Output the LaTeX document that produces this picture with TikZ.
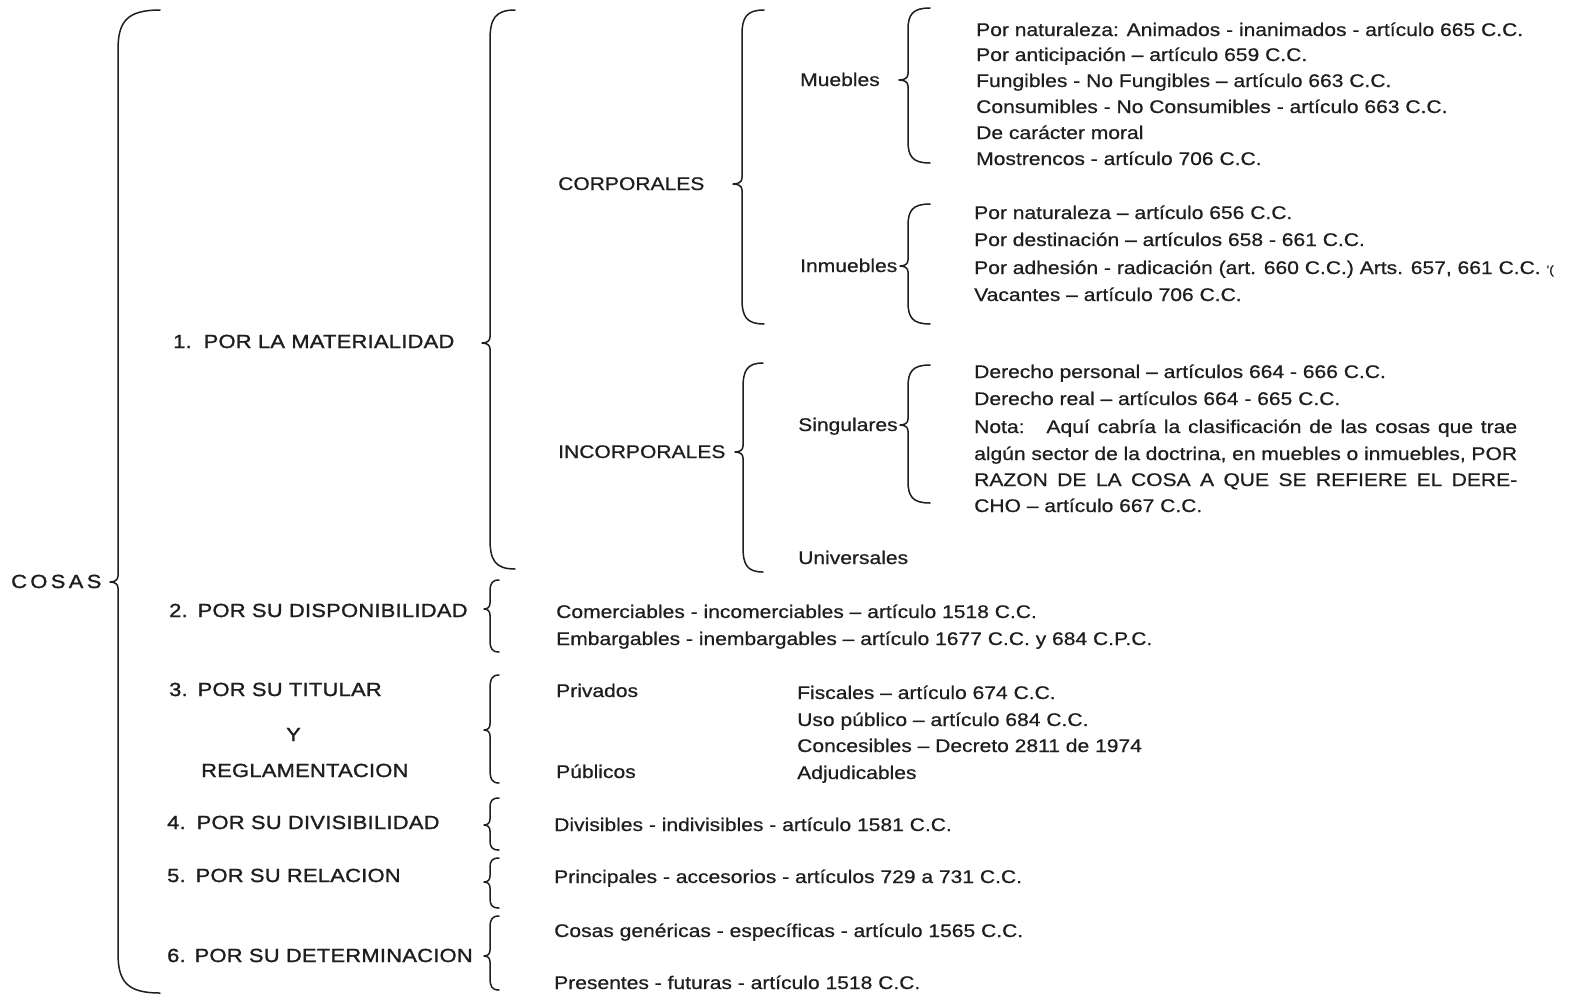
\documentclass[tikz,border=0pt]{standalone}
\usepackage{fontspec}
\setmainfont{Liberation Sans}[FakeStretch=1.15]
\newfontfamily\leaffam{Liberation Sans}[FakeStretch=1.15, FakeBold=0.6]
\newfontfamily\labfam{Liberation Sans}[FakeStretch=1.15, FakeBold=1.3, LetterSpace=1.5]
\newfontfamily\cosasfam{Liberation Sans}[FakeStretch=1.15, FakeBold=1.3, LetterSpace=18]
\definecolor{ink}{HTML}{1E1E1E}
\newcommand\labfont{\labfam\fontsize{19}{23}\selectfont}
\newcommand\leaffont{\leaffam\fontsize{18.3}{22}\selectfont}
\tikzset{
  brc/.style={line width=1.5pt, draw=ink, line cap=round, line join=round},
  lab/.style={anchor=base west, inner sep=0pt, text=ink, font=\labfont},
  leaf/.style={anchor=base west, inner sep=0pt, text=ink, font=\leaffont},
}
% #1 x of stem, #2 y top, #3 y tip, #4 y bottom, #5 tip depth, #6 end radius, #7 end width
\newcommand\mybrace[7]{%
  \draw[brc] ({#1+#7},#2) .. controls ({#1+0.2*#7},#2) and (#1,{#2+0.3*#6}) .. (#1,{#2+#6})
    -- (#1,{#3-6}) .. controls (#1,{#3-2}) and ({#1-0.4*#5},#3) .. ({#1-#5},#3)
    .. controls ({#1-0.4*#5},#3) and (#1,{#3+2}) .. (#1,{#3+6})
    -- (#1,{#4-#6}) .. controls (#1,{#4-0.3*#6}) and ({#1+0.2*#7},#4) .. ({#1+#7},#4);}
\begin{document}
\begin{tikzpicture}[x=1pt,y=-1pt]
\useasboundingbox[fill=white] (0,0) rectangle (1578,996);

% ---- level 0 / 1
\node[lab, font={\cosasfam\fontsize{19}{23}\selectfont}] (cosas) at (11,588) {COSAS};
\node[lab] (l1) at (173,348) {1.\hspace{12pt}POR LA MATERIALIDAD};
\node[lab] (l2) at (169,617) {2.\hspace{10pt}POR SU DISPONIBILIDAD};
\node[lab] (l3) at (169,696) {3.\hspace{10pt}POR SU TITULAR};
\node[lab] (l3y) at (286,741) {Y};
\node[lab] (l3b) at (201,777) {REGLAMENTACION};
\node[lab] (l4) at (167,829) {4.\hspace{11pt}POR SU DIVISIBILIDAD};
\node[lab] (l5) at (167,882) {5.\hspace{10pt}POR SU RELACION};
\node[lab] (l6) at (167,962) {6.\hspace{9pt}POR SU DETERMINACION};

% ---- level 2 / 3
\node[leaf] (corp) at (558,190) {CORPORALES};
\node[leaf] (incorp) at (558,458) {INCORPORALES};
\node[leaf] (mueb) at (800,86) {Muebles};
\node[leaf] (inmu) at (800,272) {Inmuebles};
\node[leaf] (sing) at (798,431) {Singulares};
\node[leaf] (univ) at (798,564) {Universales};

% ---- muebles
\node[leaf] (m1) at (976,36) {Por naturaleza: Animados - inanimados - artículo 665 C.C.};
\node[leaf] (m2) at (976,61) {Por anticipación – artículo 659 C.C.};
\node[leaf] (m3) at (976,87) {Fungibles - No Fungibles – artículo 663 C.C.};
\node[leaf] (m4) at (976,113) {Consumibles - No Consumibles - artículo 663 C.C.};
\node[leaf] (m5) at (976,139) {De carácter moral};
\node[leaf] (m6) at (976,165) {Mostrencos - artículo 706 C.C.};

% ---- inmuebles
\node[leaf] (i1) at (974,219) {Por naturaleza – artículo 656 C.C.};
\node[leaf] (i2) at (974,246) {Por destinación – artículos 658 - 661 C.C.};
\node[leaf] (i3) at (974,274) {Por adhesión - radicación (art. 660 C.C.) Arts. 657, 661 C.C. {\fontsize{12}{14}\selectfont '(}};
\node[leaf] (i4) at (974,301) {Vacantes – artículo 706 C.C.};

% ---- singulares
\node[leaf] (s1) at (974,378) {Derecho personal – artículos 664 - 666 C.C.};
\node[leaf] (s2) at (974,405) {Derecho real – artículos 664 - 665 C.C.};
\node[leaf] (s3) at (974,433) {\makebox[543pt][s]{Nota:\hspace{22pt}Aquí cabría la clasificación de las cosas que trae}};
\node[leaf] (s4) at (974,460) {\makebox[543pt][s]{algún sector de la doctrina, en muebles o inmuebles, POR}};
\node[leaf] (s5) at (974,486) {\makebox[543pt][s]{RAZON DE LA COSA A QUE SE REFIERE EL DERE-}};
\node[leaf] (s6) at (974,512) {CHO – artículo 667 C.C.};

% ---- 2..6
\node[leaf] (d1) at (556,618) {Comerciables - incomerciables – artículo 1518 C.C.};
\node[leaf] (d2) at (556,645) {Embargables - inembargables – artículo 1677 C.C. y 684 C.P.C.};
\node[leaf] (t1) at (556,697) {Privados};
\node[leaf] (t2) at (556,778) {Públicos};
\node[leaf] (p1) at (797,699) {Fiscales – artículo 674 C.C.};
\node[leaf] (p2) at (797,726) {Uso público – artículo 684 C.C.};
\node[leaf] (p3) at (797,752) {Concesibles – Decreto 2811 de 1974};
\node[leaf] (p4) at (797,779) {Adjudicables};
\node[leaf] (v1) at (554,831) {Divisibles - indivisibles - artículo 1581 C.C.};
\node[leaf] (r1) at (554,883) {Principales - accesorios - artículos 729 a 731 C.C.};
\node[leaf] (e1) at (554,937) {Cosas genéricas - específicas - artículo 1565 C.C.};
\node[leaf] (e2) at (554,989) {Presentes - futuras - artículo 1518 C.C.};

% ---- braces
\mybrace{118}{10}{582}{993}{8}{40}{42}
\mybrace{490}{10}{343}{569}{8}{30}{25}
\mybrace{742}{10}{184}{324}{9}{25}{22}
\mybrace{743}{363}{452}{572}{8}{25}{20}
\mybrace{908}{8}{80}{163}{9}{22}{22}
\mybrace{908}{204}{266}{324}{8}{22}{22}
\mybrace{908}{365}{425}{503}{8}{22}{22}
\mybrace{490}{580}{609}{652}{6}{12}{9}
\mybrace{490}{675}{730}{783}{6}{14}{9}
\mybrace{490}{798}{825}{850}{6}{10}{9}
\mybrace{490}{858}{882}{908}{6}{10}{9}
\mybrace{490}{916}{956}{990}{6}{12}{9}
\end{tikzpicture}
\end{document}
